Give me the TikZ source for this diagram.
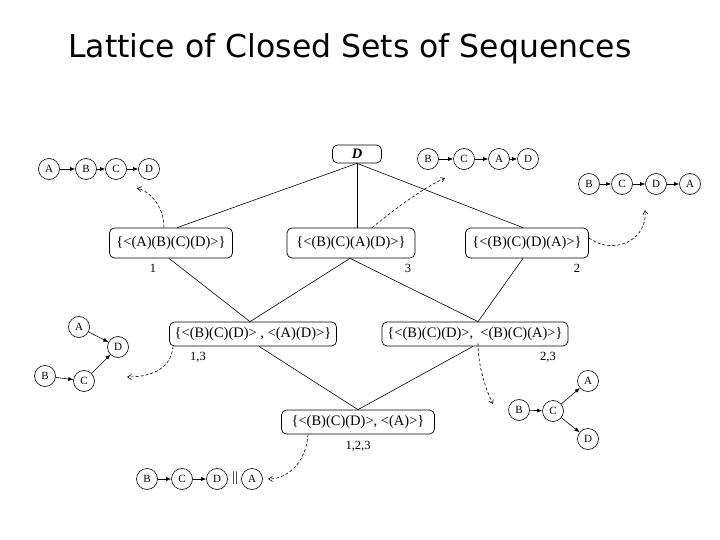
\documentclass[tikz,border=0pt]{standalone}
\usepackage{fontspec}
\setmainfont{Liberation Serif}
\newfontfamily\titlefont{DejaVu Sans}
\usetikzlibrary{arrows.meta}
\begin{document}
\begin{tikzpicture}[x=1pt,y=-1pt,
  setbox/.style={draw, rounded corners=5pt, line width=0.7pt, minimum height=30, inner sep=0pt,
    font=\fontsize{14.5}{14.5}\selectfont},
  lowbox/.style={setbox, minimum height=24},
  circ/.style={draw, circle, minimum size=21, inner sep=0pt, line width=0.6pt,
    font=\fontsize{11}{11}\selectfont},
  seqarrow/.style={-{Latex[length=5pt,width=4pt]}, line width=0.6pt},
  dasharrow/.style={densely dashed, -{Straight Barb[length=4pt,width=5pt]}, line width=0.6pt},
  latline/.style={line width=0.6pt},
  lab/.style={font=\fontsize{12.5}{12.5}\selectfont, inner sep=0pt}]
\useasboundingbox (0,0) rectangle (720,540);
\fill[white] (0,0) rectangle (720,540);

% title
\node[font=\titlefont\fontsize{31.5}{31.5}\selectfont, inner sep=0pt] (title) at (350,49) {Lattice of Closed Sets of Sequences};

% lattice nodes
\node[setbox, minimum width=49, minimum height=18] (top) at (357,154) {\textbf{\textit{D}}};
\node[setbox, minimum width=123] (s1) at (171,243) {\{<(A)(B)(C)(D)>\}};
\node[setbox, minimum width=128] (s3) at (351,243) {\{<(B)(C)(A)(D)>\}};
\node[setbox, minimum width=123] (s2) at (527,243) {\{<(B)(C)(D)(A)>\}};
\node[lowbox, minimum width=167] (s13) at (253,334) {\{<(B)(C)(D)> , <(A)(D)>\}};
\node[lowbox, minimum width=186] (s23) at (475,334) {\{<(B)(C)(D)>,\ \ <(B)(C)(A)>\}};
\node[lowbox, minimum width=153] (s123) at (358,422) {\{<(B)(C)(D)>, <(A)>\}};

% labels
\node[lab] (l1) at (153,268) {1};
\node[lab] (l3) at (408,268) {3};
\node[lab] (l2) at (577,268) {2};
\node[lab] (l13) at (198,357) {1,3};
\node[lab] (l23) at (548,357) {2,3};
\node[lab] (l123) at (358,446) {1,2,3};

% lattice edges
\draw[latline] (top.south) -- ([xshift=6]s1.north);
\draw[latline] (top.south) -- ([xshift=6]s3.north);
\draw[latline] (top.south) -- ([xshift=-4]s2.north);
\draw[latline] ([xshift=-2]s1.south) -- ([xshift=-3]s13.north);
\draw[latline] ([xshift=-1]s3.south) -- ([xshift=-3]s13.north);
\draw[latline] ([xshift=-1]s3.south) -- ([xshift=3]s23.north);
\draw[latline] ([xshift=-4]s2.south) -- ([xshift=3]s23.north);
\draw[latline] ([xshift=6]s13.south) -- (s123.north);
\draw[latline] ([xshift=-2]s23.south) -- (s123.north);

% sequence 1: A B C D
\node[circ] (a1) at (49,169) {A};
\node[circ] (b1) at (86,169) {B};
\node[circ] (c1) at (116,169) {C};
\node[circ] (d1) at (149,169) {D};
\draw[seqarrow] (a1) -- (b1);
\draw[seqarrow] (b1) -- (c1);
\draw[seqarrow] (c1) -- (d1);

% sequence 3: B C A D
\node[circ] (b3) at (428,159) {B};
\node[circ] (c3) at (464,159) {C};
\node[circ] (a3) at (499,159) {A};
\node[circ] (d3) at (528,159) {D};
\draw[seqarrow] (b3) -- (c3);
\draw[seqarrow] (c3) -- (a3);
\draw[seqarrow] (a3) -- (d3);

% sequence 2: B C D A
\node[circ] (b2) at (589,184) {B};
\node[circ] (c2) at (622,184) {C};
\node[circ] (d2) at (656,184) {D};
\node[circ] (a2) at (690,184) {A};
\draw[seqarrow] (b2) -- (c2);
\draw[seqarrow] (c2) -- (d2);
\draw[seqarrow] (d2) -- (a2);

% graph 1,3
\node[circ] (a13) at (79,327) {A};
\node[circ] (d13) at (118,347) {D};
\node[circ] (b13) at (45,376) {B};
\node[circ] (c13) at (84,381) {C};
\draw[seqarrow] (a13) -- (d13);
\draw[seqarrow] (b13) -- (c13);
\draw[seqarrow] (c13) -- (d13);

% graph 2,3
\node[circ] (b23) at (519,410) {B};
\node[circ] (c23) at (553,411) {C};
\node[circ] (a23) at (588,381) {A};
\node[circ] (d23) at (588,439) {D};
\draw[seqarrow] (b23) -- (c23);
\draw[seqarrow] (c23) -- (a23);
\draw[seqarrow] (c23) -- (d23);

% graph 1,2,3
\node[circ] (b123) at (147,479) {B};
\node[circ] (c123) at (182,479) {C};
\node[circ] (d123) at (217,479) {D};
\node[font=\fontsize{14}{14}\selectfont, inner sep=0pt] (par) at (235,478) {||};
\node[circ] (a123) at (252,479) {A};
\draw[seqarrow] (b123) -- (c123);
\draw[seqarrow] (c123) -- (d123);

% dashed connectors
\coordinate (t1) at (137,188);
\coordinate (t3) at (445,178);
\coordinate (t2) at (645,210);
\coordinate (t13) at (127,377);
\coordinate (t23) at (493,404);
\coordinate (t123) at (268,479);
\draw[dasharrow] ([xshift=-7]s1.north) .. controls +(0,-22) and +(12,3) .. (t1);
\draw[dasharrow] ([xshift=21]s3.north) .. controls +(25,-20) and +(-25,12) .. (t3);
\draw[dasharrow] ([yshift=5]s2.east) .. controls +(25,18) and +(3,30) .. (t2);
\draw[dasharrow] ([xshift=-80]s13.south) .. controls +(-2,25) and +(20,0) .. (t13);
\draw[dasharrow] ([xshift=3,yshift=3]s23.south) .. controls +(0,25) and +(-6,-12) .. (t23);
\draw[dasharrow] ([xshift=-50]s123.south) .. controls +(-2,30) and +(18,0) .. (t123);
\end{tikzpicture}
\end{document}
